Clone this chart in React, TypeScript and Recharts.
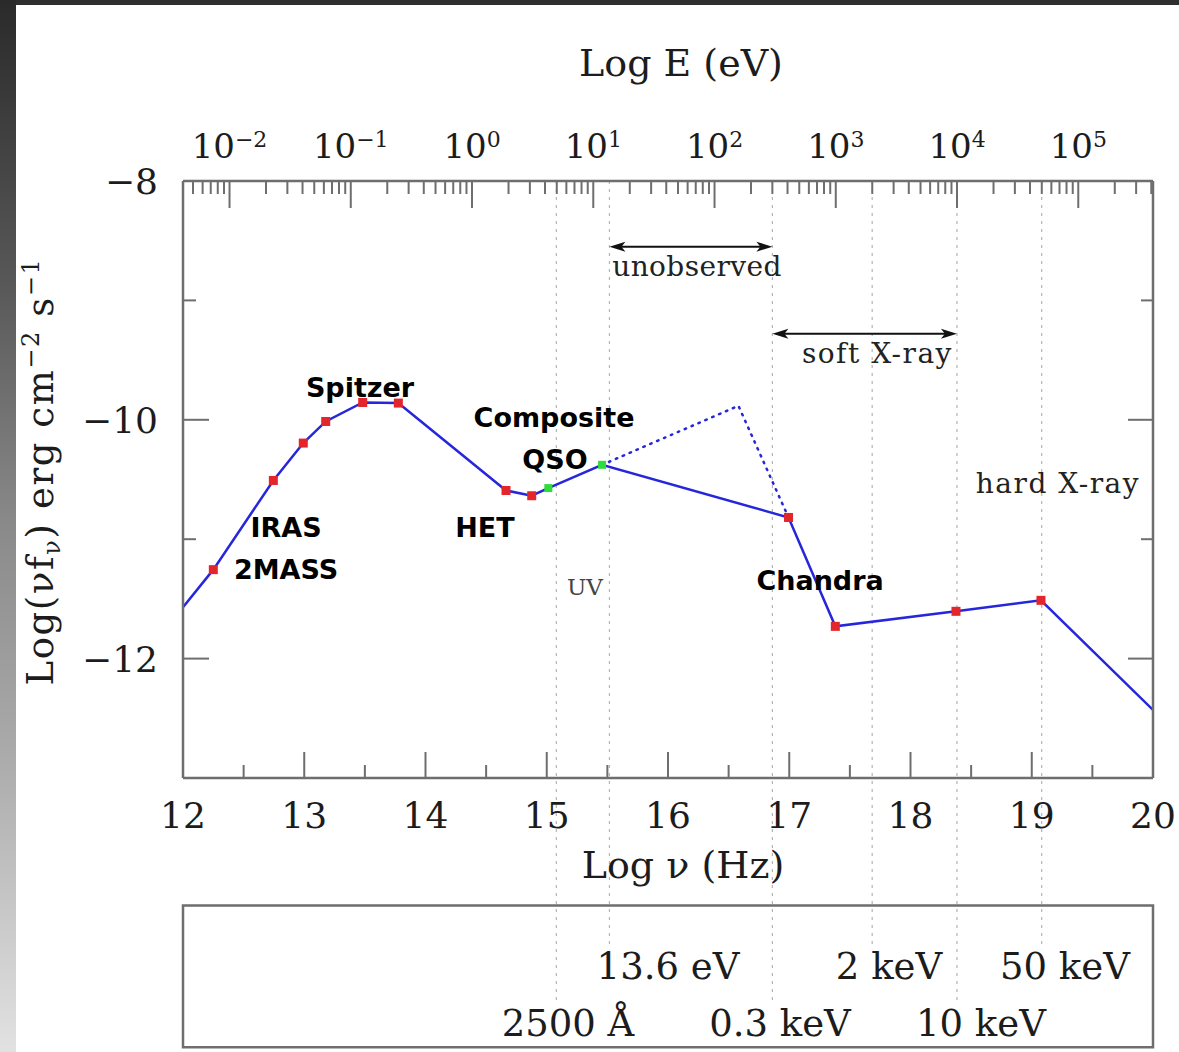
import React from 'react';
import {
  ComposedChart,
  Line,
  XAxis,
  YAxis,
  ReferenceLine,
  ReferenceDot,
  ReferenceArea,
} from 'recharts';

// Broadband quasar SED: log(nu f_nu) against log frequency
const sedLogNu = [12.0, 12.25, 12.745, 12.992, 13.177, 13.482, 13.776, 14.664, 14.876, 15.013, 15.456, 16.994, 17.38, 18.375, 19.076, 20.0];
const sedLogFlux = [-11.57, -11.255, -10.508, -10.195, -10.014, -9.855, -9.86, -10.592, -10.636, -10.572, -10.377, -10.818, -11.73, -11.604, -11.512, -12.43];
// '' = no marker, 'obs' = photometric point, 'qso' = composite QSO spectrum point
const sedSource = ['', 'obs', 'obs', 'obs', 'obs', 'obs', 'obs', 'obs', 'obs', 'qso', 'qso', 'obs', 'obs', 'obs', 'obs', ''];

// Possible EUV bump across the unobserved gap
const bumpLogNu = [15.456, 16.581, 16.994];
const bumpLogFlux = [-10.377, -9.883, -10.818];

// Axis ticks
const freqTicks = [12, 12.5, 13, 13.5, 14, 14.5, 15, 15.5, 16, 16.5, 17, 17.5, 18, 18.5, 19, 19.5, 20];
const fluxTicks = [-13, -12, -11, -10, -9, -8];
const fluxLabels = [-12, -10, -8];
const energyDecades = [-3, -2, -1, 0, 1, 2, 3, 4, 5];
const labeledDecades = [-2, -1, 0, 1, 2, 3, 4, 5];
const LOG_HZ_PER_EV = 14.3837;

// Reference energies / wavelengths marked by dotted verticals
const refNames = ['2500 Å', '13.6 eV', '0.3 keV', '2 keV', '10 keV', '50 keV'];
const refLogNu = [15.079, 15.517, 16.861, 17.684, 18.383, 19.082];
const refRow = [2, 1, 2, 1, 2, 1];

// Observing bands shown as double arrows
const bandNames = ['unobserved', 'soft X-ray'];
const bandFrom = [15.517, 16.861];
const bandTo = [16.861, 18.383];

// Instrument / region labels
const instrumentNames = ['Spitzer', 'Composite', 'QSO', 'IRAS', '2MASS', 'HET', 'Chandra'];

// ---- layout (label placement in axis units) ----
const instrumentPos = [
  [13.46, -9.808],
  [15.06, -10.059],
  [15.068, -10.41],
  [12.85, -10.979],
  [12.85, -11.331],
  [14.49, -10.979],
  [17.254, -11.423],
];
const bandY = [-8.55, -9.28];
const bandLabelPos = [
  [15.54, -8.795, 'start'],
  [18.35, -9.523, 'end'],
];
const refLabelX = [15.175, 16.0, 16.924, 17.823, 18.581, 19.274];
const rowTextY = { 1: -14.686, 2: -15.163 };
const rowLineEnd = { 1: -14.435, 2: -14.895 };
const panelTop = -14.067;
const panelBottom = -15.255;

const W = 1179;
const H = 1052;
const SERIF = "'DejaVu Serif', serif";
const HAND = "'Comic Sans MS', 'DejaVu Sans', sans-serif";
const FRAME = '#6e6e6e';
const INK = '#1c1c1c';
const LINE_BLUE = '#2626da';
const OBS_RED = '#e3262c';
const QSO_GREEN = '#2fdc3a';

const sedData = sedLogNu.map((x, i) => ({ x, y: sedLogFlux[i], source: sedSource[i] }));
const bumpData = bumpLogNu.map((x, i) => ({ x, y: bumpLogFlux[i] }));

const energyTicks: number[] = [];
energyDecades.forEach((k) => {
  for (let m = 1; m <= 9; m++) {
    const v = LOG_HZ_PER_EV + k + Math.log10(m);
    if (v >= 12 - 1e-9 && v <= 20 + 1e-9) energyTicks.push(v);
  }
});

const minus = (v: number) => (v < 0 ? `\u2212${Math.abs(v)}` : `${v}`);

const BottomTick = (props: any) => {
  const { x, y, payload } = props;
  const v = payload.value;
  const major = Math.abs(v - Math.round(v)) < 1e-6;
  return (
    <g>
      <line x1={x} x2={x} y1={y} y2={y - (major ? 26 : 13)} stroke={FRAME} strokeWidth={2} />
      {major && (
        <text x={x} y={y + 50} textAnchor="middle" fontSize={36} fontFamily={SERIF} fill={INK}>
          {v}
        </text>
      )}
    </g>
  );
};

const TopTick = (props: any) => {
  const { x, y, payload } = props;
  const rel = payload.value - LOG_HZ_PER_EV;
  const k = Math.round(rel);
  const major = Math.abs(rel - k) < 1e-6;
  const labeled = major && labeledDecades.includes(k);
  return (
    <g>
      <line x1={x} x2={x} y1={y} y2={y + (major ? 27 : 13)} stroke={FRAME} strokeWidth={2} />
      {labeled && (
        <text x={x} y={y - 23} textAnchor="middle" fontSize={34} fontFamily={SERIF} fill={INK}>
          10
          <tspan fontSize={22} dy={-11}>
            {minus(k)}
          </tspan>
        </text>
      )}
    </g>
  );
};

const LeftTick = (props: any) => {
  const { x, y, payload } = props;
  const v = payload.value;
  const labeled = fluxLabels.includes(v);
  if (v === -13) return <g />;
  return (
    <g>
      {v !== -8 && (
        <line x1={x} x2={x + (labeled ? 26 : 13)} y1={y} y2={y} stroke={FRAME} strokeWidth={2} />
      )}
      {labeled && (
        <text x={x - 25} y={y} dy="0.36em" textAnchor="end" fontSize={36} fontFamily={SERIF} fill={INK}>
          {minus(v)}
        </text>
      )}
    </g>
  );
};

const RightTick = (props: any) => {
  const { x, y, payload } = props;
  const v = payload.value;
  if (v === -13 || v === -8) return <g />;
  const labeled = fluxLabels.includes(v);
  return <line x1={x} x2={x - (labeled ? 25 : 12)} y1={y} y2={y} stroke={FRAME} strokeWidth={2} />;
};

const SourceMarker = (props: any) => {
  const { cx, cy, payload, index } = props;
  if (!payload || !payload.source) return <g key={`m-${index}`} />;
  const qso = payload.source === 'qso';
  const s = qso ? 8 : 9;
  return (
    <rect
      key={`m-${index}`}
      x={cx - s / 2}
      y={cy - s / 2}
      width={s}
      height={s}
      fill={qso ? QSO_GREEN : OBS_RED}
    />
  );
};

const DoubleArrow = (props: any) => {
  const { x1, y1, x2 } = props;
  const head = 16;
  const half = 5;
  const y = y1;
  return (
    <g>
      <line x1={x1 + 6} y1={y} x2={x2 - 6} y2={y} stroke="#111" strokeWidth={2} />
      <polygon
        points={`${x1},${y} ${x1 + head},${y - half} ${x1 + head - 4},${y} ${x1 + head},${y + half}`}
        fill="#111"
      />
      <polygon
        points={`${x2},${y} ${x2 - head},${y - half} ${x2 - head + 4},${y} ${x2 - head},${y + half}`}
        fill="#111"
      />
    </g>
  );
};

const textShape = (text: string, style: any) => (p: any) => (
  <text x={p.cx} y={p.cy} {...style}>
    {text}
  </text>
);

const instrumentStyle = {
  textAnchor: 'middle',
  fontSize: 27,
  fontWeight: 700,
  fontFamily: HAND,
  fill: '#000',
};

const serifNote = {
  fontSize: 28,
  fontFamily: SERIF,
  fill: '#222',
};

const BottomTitle = (props: any) => {
  const vb = props.viewBox || {};
  return (
    <text x={vb.x + vb.width / 2 + 15} y={vb.y + 100} textAnchor="middle" fontSize={38} fontFamily={SERIF} fill={INK}>
      Log ν  (Hz)
    </text>
  );
};

const TopTitle = (props: any) => {
  const vb = props.viewBox || {};
  return (
    <text x={vb.x + vb.width / 2 + 13} y={vb.y + 15} textAnchor="middle" fontSize={38} fontFamily={SERIF} fill={INK}>
      Log  E  (eV)
    </text>
  );
};

const LeftTitle = (props: any) => {
  const vb = props.viewBox || {};
  const cx = vb.x + 20;
  const cy = vb.y + vb.height / 2 - 8;
  return (
    <text
      transform={`translate(${cx},${cy}) rotate(-90)`}
      textAnchor="middle"
      fontSize={37}
      letterSpacing={1.6}
      fontFamily={SERIF}
      fill={INK}
    >
      Log(νf
      <tspan fontSize={24} dy={7}>
        ν
      </tspan>
      <tspan dy={-7}>)  erg  cm</tspan>
      <tspan fontSize={24} dy={-14}>
        −2
      </tspan>
      <tspan dy={14}>  s</tspan>
      <tspan fontSize={24} dy={-14}>
        −1
      </tspan>
    </text>
  );
};

export default function App() {
  return (
    <div
      style={{
        position: 'absolute',
        left: 0,
        top: 0,
        width: W,
        height: H,
        background: '#ffffff',
        overflow: 'hidden',
      }}
    >
      <div style={{ position: 'absolute', left: 0, top: 0, width: W, height: 5, background: '#2e2e2e' }} />
      <div
        style={{
          position: 'absolute',
          left: 0,
          top: 0,
          width: 16,
          height: H,
          background: 'linear-gradient(to bottom, #2a2a2a 0%, #5a5a5a 28%, #8a8a8a 50%, #ababab 72%, #e2e2e2 100%)',
        }}
      />
      <div style={{ position: 'absolute', left: 0, top: 0 }}>
        <ComposedChart width={W} height={H} margin={{ top: 61, right: 16, bottom: 164, left: 33 }}>
          <XAxis
            xAxisId={0}
            type="number"
            dataKey="x"
            domain={[12, 20]}
            allowDataOverflow
            ticks={freqTicks}
            interval={0}
            height={110}
            tickSize={0}
            tickMargin={0}
            tickLine={false}
            axisLine={{ stroke: FRAME, strokeWidth: 2.5 }}
            tick={<BottomTick />}
            label={BottomTitle}
          />
          <XAxis
            xAxisId="top"
            orientation="top"
            type="number"
            dataKey="x"
            domain={[12, 20]}
            allowDataOverflow
            ticks={energyTicks}
            interval={0}
            height={120}
            tickSize={0}
            tickMargin={0}
            tickLine={false}
            axisLine={{ stroke: FRAME, strokeWidth: 2.5 }}
            tick={<TopTick />}
            label={TopTitle}
          />
          <YAxis
            yAxisId={0}
            type="number"
            domain={[-13, -8]}
            allowDataOverflow
            ticks={fluxTicks}
            interval={0}
            width={150}
            tickSize={0}
            tickMargin={0}
            tickLine={false}
            axisLine={{ stroke: FRAME, strokeWidth: 2.5 }}
            tick={<LeftTick />}
            label={LeftTitle}
          />
          <YAxis
            yAxisId="right"
            orientation="right"
            type="number"
            domain={[-13, -8]}
            allowDataOverflow
            ticks={fluxTicks}
            interval={0}
            width={10}
            tickSize={0}
            tickMargin={0}
            tickLine={false}
            axisLine={{ stroke: FRAME, strokeWidth: 2.5 }}
            tick={<RightTick />}
          />

          {/* same SED bound to the top/right axes, kept invisible so those axes get scales */}
          <Line
            xAxisId="top"
            yAxisId="right"
            data={sedData}
            dataKey="y"
            stroke="none"
            dot={false}
            activeDot={false}
            legendType="none"
            isAnimationActive={false}
          />

          {refLogNu.map((x, i) => (
            <ReferenceLine
              key={`ref-${i}`}
              segment={[
                { x, y: -8 },
                { x, y: rowLineEnd[refRow[i]] },
              ]}
              stroke="#b4b4b4"
              strokeWidth={1.2}
              strokeDasharray="3 5"
              ifOverflow="visible"
            />
          ))}

          <ReferenceArea
            x1={12}
            x2={20}
            y1={panelTop}
            y2={panelBottom}
            fill="none"
            stroke={FRAME}
            strokeWidth={2.5}
            ifOverflow="visible"
          />

          {refNames.map((name, i) => (
            <ReferenceDot
              key={`rl-${i}`}
              x={refLabelX[i]}
              y={rowTextY[refRow[i]]}
              r={0}
              ifOverflow="visible"
              shape={textShape(name, { ...serifNote, fontSize: 37, textAnchor: 'middle', fill: INK })}
            />
          ))}

          {bandNames.map((name, i) => (
            <ReferenceLine
              key={`band-${i}`}
              segment={[
                { x: bandFrom[i], y: bandY[i] },
                { x: bandTo[i], y: bandY[i] },
              ]}
              ifOverflow="visible"
              shape={DoubleArrow}
            />
          ))}
          {bandNames.map((name, i) => (
            <ReferenceDot
              key={`bl-${i}`}
              x={bandLabelPos[i][0] as number}
              y={bandLabelPos[i][1] as number}
              r={0}
              ifOverflow="visible"
              shape={textShape(name, { ...serifNote, letterSpacing: i === 1 ? 1.5 : 0.4, textAnchor: bandLabelPos[i][2] })}
            />
          ))}

          <ReferenceDot
            x={15.315}
            y={-11.464}
            r={0}
            shape={textShape('UV', { ...serifNote, fontSize: 23, textAnchor: 'middle', fill: '#444' })}
          />
          <ReferenceDot
            x={19.216}
            y={-10.611}
            r={0}
            shape={textShape('hard X-ray', { ...serifNote, letterSpacing: 1.5, textAnchor: 'middle' })}
          />

          <Line
            data={bumpData}
            dataKey="y"
            type="linear"
            stroke={LINE_BLUE}
            strokeWidth={2.5}
            strokeDasharray="1.5 6"
            strokeLinecap="round"
            dot={false}
            activeDot={false}
            isAnimationActive={false}
          />
          <Line
            data={sedData}
            dataKey="y"
            type="linear"
            stroke={LINE_BLUE}
            strokeWidth={2.5}
            dot={SourceMarker}
            activeDot={false}
            isAnimationActive={false}
          />

          {instrumentNames.map((name, i) => (
            <ReferenceDot
              key={`inst-${i}`}
              x={instrumentPos[i][0]}
              y={instrumentPos[i][1]}
              r={0}
              shape={textShape(name, instrumentStyle)}
            />
          ))}
        </ComposedChart>
      </div>
    </div>
  );
}
